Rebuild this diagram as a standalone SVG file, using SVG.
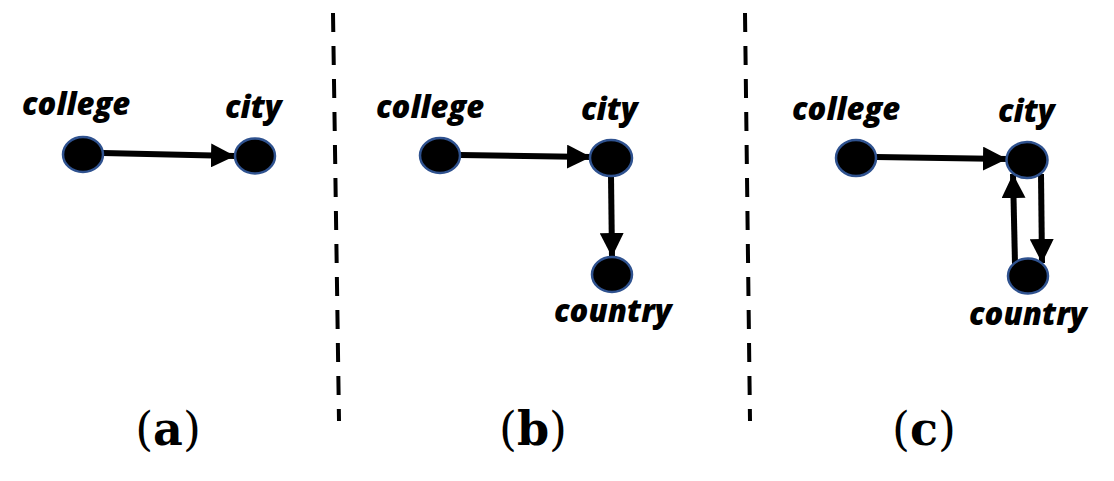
<svg xmlns="http://www.w3.org/2000/svg" width="1114" height="481" viewBox="0 0 1114 481">
<style>
.node{fill:#000;stroke:#2F528F;stroke-width:2.5}
.lbl{font-family:"Open Sans","DejaVu Sans",sans-serif;font-weight:800;font-style:italic;font-size:31px;fill:#000}
.cap{font-family:"DejaVu Serif","Liberation Serif",serif;font-size:46px;fill:#000;text-anchor:middle}
.cap tspan.b{font-weight:bold}
.edge{stroke:#000;stroke-width:6;fill:none}
.div{stroke:#000;stroke-width:4;stroke-dasharray:19 14;fill:none}
</style>
<defs>
<marker id="ah" viewBox="0 0 10 10" refX="10" refY="5" markerWidth="4" markerHeight="4" markerUnits="strokeWidth" orient="auto">
<path d="M0,0 L10,5 L0,10 Z" fill="#000"/>
</marker>
</defs>
<g id="dividers">
<line class="div" x1="333" y1="13" x2="339" y2="421"/>
<line class="div" x1="745" y1="13" x2="750" y2="421"/>
</g>
<g id="connectors">
<line class="edge" x1="103" y1="153" x2="235" y2="156" marker-end="url(#ah)"/>
<line class="edge" x1="460" y1="155" x2="591" y2="157" marker-end="url(#ah)"/>
<line class="edge" x1="611" y1="176" x2="612" y2="257" marker-end="url(#ah)"/>
<line class="edge" x1="876" y1="157" x2="1007" y2="159" marker-end="url(#ah)"/>
<line class="edge" x1="1015" y1="264" x2="1013" y2="174" marker-end="url(#ah)"/>
<line class="edge" x1="1041" y1="174" x2="1042" y2="263" marker-end="url(#ah)"/>
</g>
<g id="a-college"><ellipse class="node" cx="83" cy="154.5" rx="20" ry="17.5"/><text class="lbl" x="22" y="115">college</text></g>
<g id="a-city"><ellipse class="node" cx="255" cy="156" rx="20" ry="17.5"/><text class="lbl" x="225" y="118">city</text></g>
<g id="b-college"><ellipse class="node" cx="440" cy="155.5" rx="20" ry="17.5"/><text class="lbl" x="376" y="118">college</text></g>
<g id="b-city"><ellipse class="node" cx="611" cy="158" rx="21" ry="18"/><text class="lbl" x="581" y="120">city</text></g>
<g id="b-country"><ellipse class="node" cx="612" cy="274.5" rx="20" ry="17.5"/><text class="lbl" x="554" y="322">country</text></g>
<g id="c-college"><ellipse class="node" cx="856" cy="158" rx="20" ry="18"/><text class="lbl" x="792" y="120">college</text></g>
<g id="c-city"><ellipse class="node" cx="1027" cy="160" rx="20.5" ry="18"/><text class="lbl" x="998" y="122">city</text></g>
<g id="c-country"><ellipse class="node" cx="1028" cy="276" rx="20" ry="17.5"/><text class="lbl" x="969" y="325">country</text></g>
<g id="captions">
<text class="cap" x="168" y="445">(<tspan class="b">a</tspan>)</text>
<text class="cap" x="533" y="445">(<tspan class="b">b</tspan>)</text>
<text class="cap" x="924" y="445">(<tspan class="b">c</tspan>)</text>
</g>
</svg>
